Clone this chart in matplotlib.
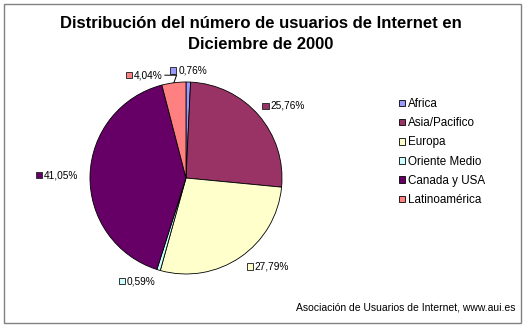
import numpy as np
import matplotlib.pyplot as plt
from matplotlib.patches import Rectangle
from matplotlib.offsetbox import AnnotationBbox, HPacker, DrawingArea, TextArea

plt.rcParams['font.family'] = ['Liberation Sans', 'DejaVu Sans']

regions = ['Africa', 'Asia/Pacifico', 'Europa', 'Oriente Medio', 'Canada y USA', 'Latinoamérica']
shares = [0.76, 25.76, 27.79, 0.59, 41.05, 4.04]
colors = ['#9999FF', '#993366', '#FFFFCC', '#CCFFFF', '#660066', '#FF8080']

title = 'Distribución del número de usuarios de Internet en\nDiciembre de 2000'
source = 'Asociación de Usuarios de Internet, www.aui.es'

W, H = 527, 328
fig = plt.figure(figsize=(W / 100, H / 100), dpi=100)

# grey frame round the whole chart
fig.patches.append(Rectangle((4 / W, 5 / H), 517 / W, 319 / H, transform=fig.transFigure,
                             fill=False, edgecolor='#808080', lw=1))

fig.text(261 / W, 1 - 34 / H, title, ha='center', va='center',
         fontsize=12, fontweight='bold', linespacing=1.5)

# pie: centre (186, 178) px, radius 96 px
ax = fig.add_axes([(186 - 96) / W, (H - 178 - 96) / H, 192 / W, 192 / H])
wedges, _ = ax.pie(shares, colors=colors, startangle=90, counterclock=False,
                   wedgeprops=dict(edgecolor='black', linewidth=0.6))
ax.set_xlim(-1, 1)
ax.set_ylim(-1, 1)
ax.axis('off')

# small labels with a colour key next to each slice
nudge = {'Latinoamérica': (-0.1, -0.04), 'Asia/Pacifico': (-0.05, 0.02)}
leader = {'Latinoamérica'}
for w, name, val, c in zip(wedges, regions, shares, colors):
    ang = np.deg2rad((w.theta1 + w.theta2) / 2)
    x, y = np.cos(ang), np.sin(ang)
    lx, ly = 1.12 * x, 1.12 * y
    dx, dy = nudge.get(name, (0, 0))
    lx, ly = lx + dx, ly + dy
    if abs(lx) < 0.1:
        ha = 0.5
    elif lx > 0:
        ha = 0.0
    else:
        ha = 1.0
    da = DrawingArea(4.5, 4.5, 0, 0)
    da.add_artist(Rectangle((0, 0), 4.5, 4.5, facecolor=c, edgecolor='#333333', lw=0.7))
    txt = TextArea(f'{val:.2f}%'.replace('.', ','), textprops=dict(size=7.3))
    box = HPacker(children=[da, txt], align='center', pad=0, sep=1.2)
    arrow = None
    if name in leader:
        arrow = dict(arrowstyle='-', color='black', lw=0.7, shrinkA=1, shrinkB=0,
                     connectionstyle='angle,angleA=0,angleB=70,rad=0')
    ab = AnnotationBbox(box, (x, y), xybox=(lx, ly), box_alignment=(ha, 0.5),
                        frameon=False, pad=0, annotation_clip=False, arrowprops=arrow)
    ax.add_artist(ab)

fig.legend(wedges, regions, loc='upper left', bbox_to_anchor=(399 / W, 1 - 98 / H),
           frameon=False, fontsize=8.4, handlelength=0.5, handleheight=0.5,
           handletextpad=0.3, labelspacing=0.62, borderpad=0, borderaxespad=0)

fig.text(515 / W, 1 - 308 / H, source, ha='right', va='center', fontsize=7.5)

fig.savefig('out.png', dpi=100)
